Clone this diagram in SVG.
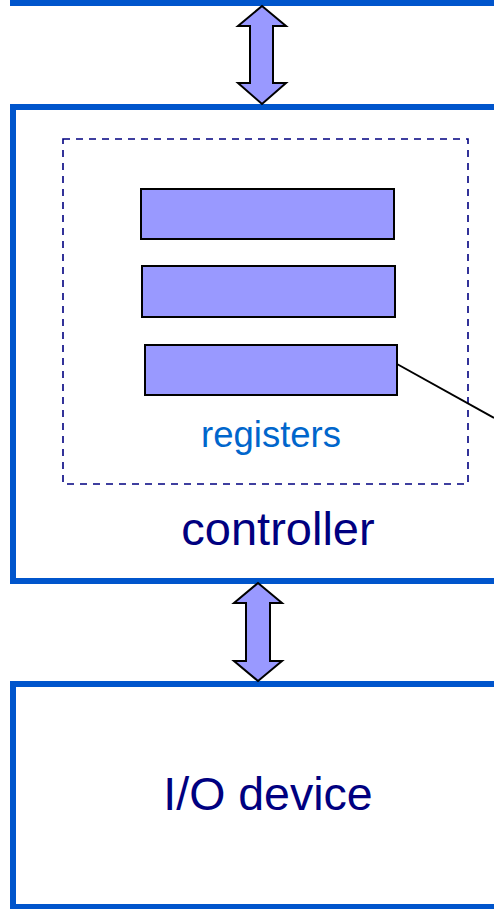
<svg xmlns="http://www.w3.org/2000/svg" width="494" height="909" viewBox="0 0 494 909">
  <style>
    .box { fill: none; stroke: #0055cc; stroke-width: 6; }
    .reg { fill: #9999ff; stroke: #000000; stroke-width: 2; }
    .bus { fill: #9999ff; stroke: #000000; stroke-width: 2; stroke-linejoin: miter; }
    .label { font-family: "Liberation Sans", Arial, sans-serif; text-anchor: middle; }
  </style>
  <rect width="494" height="909" fill="#ffffff"/>

  <!-- host side (above) -->
  <g id="host">
    <rect class="box" x="13" y="-200" width="600" height="203"/>
  </g>

  <!-- controller with its register file -->
  <g id="controller">
    <rect class="box" x="13" y="107" width="600" height="474"/>
    <text class="label" x="278" y="545" font-size="47" fill="#000080">controller</text>
  </g>

  <g id="registers">
    <rect x="63" y="139" width="405" height="345" fill="none" stroke="#000080" stroke-width="1.6" stroke-dasharray="7 6"/>
    <rect class="reg" x="141" y="189" width="253" height="50"/>
    <rect class="reg" x="142" y="266" width="253" height="51"/>
    <rect class="reg" x="145" y="345" width="252" height="50"/>
    <text class="label" x="271" y="447" font-size="36.5" fill="#0066cc">registers</text>
  </g>

  <!-- I/O device -->
  <g id="io-device">
    <rect class="box" x="13" y="684" width="600" height="223"/>
    <text class="label" x="268" y="810" font-size="46.5" fill="#000080">I/O device</text>
  </g>

  <!-- connectors -->
  <g id="connectors">
    <path class="bus" d="M262 6 L286 26 L273 26 L273 83 L286 83 L262 104 L238 83 L250 83 L250 26 L238 26 Z"/>
    <path class="bus" d="M258 583 L282 603 L270 603 L270 661 L282 661 L258 681 L234 661 L246 661 L246 603 L234 603 Z"/>
    <line x1="397" y1="364" x2="494" y2="418" stroke="#000000" stroke-width="2"/>
  </g>
</svg>
